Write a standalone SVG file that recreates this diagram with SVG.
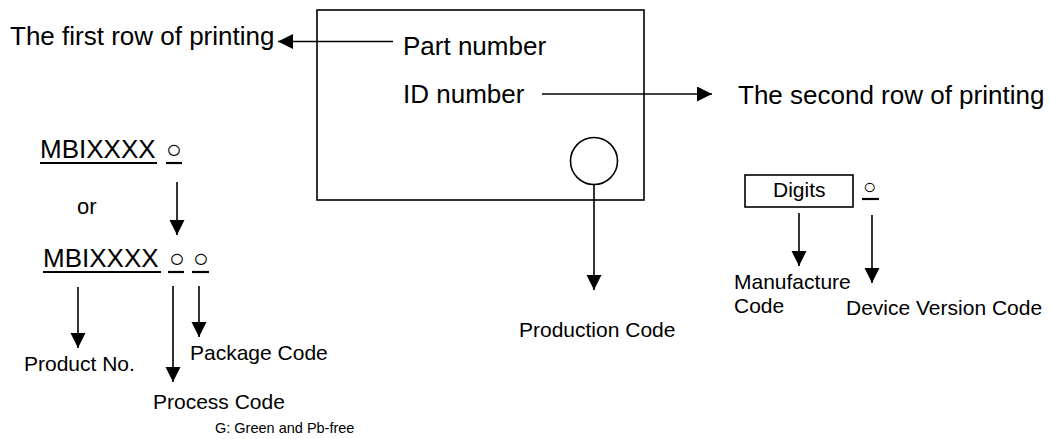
<svg xmlns="http://www.w3.org/2000/svg" width="1051" height="439" viewBox="0 0 1051 439">
<style>
text{font-family:"Liberation Sans",Arial,sans-serif;fill:#000}
.big{font-size:26px}
.mid{font-size:21px}
.small{font-size:14.5px}
.cir{font-size:26px}
.ln{stroke:#000;stroke-width:1.6;fill:none}
.ul{stroke:#000;stroke-width:2.2}
.box{fill:#fff;stroke:#000;stroke-width:1.6}
</style>
<defs>
<marker id="ah" markerUnits="userSpaceOnUse" markerWidth="16" markerHeight="16" refX="15" refY="7.5" orient="auto">
<path d="M0,0 L15,7.5 L0,15 z" fill="#000"/>
</marker>
</defs>
<rect width="1051" height="439" fill="#fff"/>

<g id="chip">
<rect class="box" x="317" y="10" width="327" height="190"/>
<circle cx="594" cy="161" r="23.5" fill="none" stroke="#000" stroke-width="1.6"/>
<text class="big" x="403" y="55">Part number</text>
<text class="big" x="403" y="103">ID number</text>
</g>

<g id="first-row"><text class="big" x="10" y="45">The first row of printing</text></g>
<g id="second-row"><text class="big" x="738" y="104">The second row of printing</text></g>
<g id="production"><text class="mid" x="519" y="337">Production Code</text></g>

<g id="code-a">
<text class="big" x="40" y="158">MBIXXXX</text>
<text class="cir" x="166" y="158">○</text>
<line class="ul" x1="40" y1="163" x2="157" y2="163"/>
<line class="ul" x1="166" y1="163" x2="182" y2="163"/>
</g>
<g id="or"><text style="font-size:22px" x="77" y="214">or</text></g>
<g id="code-b">
<text class="big" x="43" y="267">MBIXXXX</text>
<text class="cir" x="169" y="267">○</text>
<text class="cir" x="193" y="267">○</text>
<line class="ul" x1="43" y1="272" x2="161" y2="272"/>
<line class="ul" x1="168" y1="272" x2="184" y2="272"/>
<line class="ul" x1="192" y1="272" x2="209" y2="272"/>
</g>
<g id="product-no"><text class="mid" x="24" y="371">Product No.</text></g>
<g id="package-code"><text class="mid" x="190" y="360">Package Code</text></g>
<g id="process-code"><text class="mid" x="153" y="409">Process Code</text></g>
<g id="green-note"><text class="small" x="215" y="433">G: Green and Pb-free</text></g>

<g id="digits">
<rect class="box" x="745" y="175" width="108" height="32"/>
<text class="mid" x="773" y="197">Digits</text>
<text style="font-size:22px" x="863" y="194">○</text>
<line class="ul" x1="862" y1="199" x2="879" y2="199"/>
</g>
<g id="manufacture"><text class="mid" x="734" y="289">Manufacture</text><text class="mid" x="734" y="313">Code</text></g>
<g id="device-version"><text class="mid" x="846" y="315">Device Version Code</text></g>

<g id="connectors">
<line class="ln" x1="393" y1="41.5" x2="278" y2="41.5" marker-end="url(#ah)"/>
<line class="ln" x1="542" y1="94" x2="712" y2="94" marker-end="url(#ah)"/>
<line class="ln" x1="594" y1="185" x2="594" y2="290" marker-end="url(#ah)"/>
<line class="ln" x1="177" y1="182" x2="177" y2="235" marker-end="url(#ah)"/>
<line class="ln" x1="78" y1="287" x2="78" y2="348" marker-end="url(#ah)"/>
<line class="ln" x1="173" y1="286" x2="173" y2="382" marker-end="url(#ah)"/>
<line class="ln" x1="199" y1="286" x2="199" y2="337" marker-end="url(#ah)"/>
<line class="ln" x1="799" y1="213" x2="799" y2="266" marker-end="url(#ah)"/>
<line class="ln" x1="872" y1="215" x2="872" y2="283" marker-end="url(#ah)"/>
</g>
</svg>
